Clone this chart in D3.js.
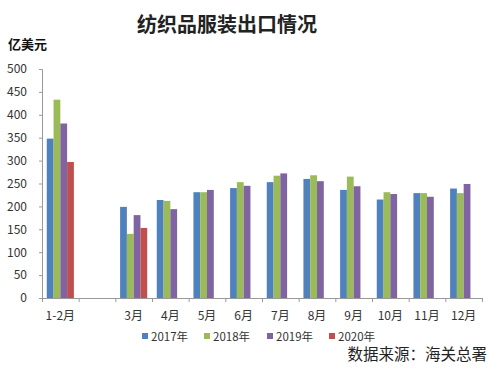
<!DOCTYPE html>
<html>
<head>
<meta charset="utf-8">
<script src="https://cdn.jsdelivr.net/npm/d3@7"></script>
<style>
  body { margin: 0; background: #fff; }
  svg text { font-family: "Noto Sans CJK SC", "DejaVu Sans", sans-serif; }
</style>
</head>
<body>
<div id="chart"></div>
<script>
// categories (second slot is an empty gap in the original chart)
const months = ['1-2月', '', '3月', '4月', '5月', '6月', '7月', '8月', '9月', '10月', '11月', '12月'];
const seriesNames = ['2017年', '2018年', '2019年', '2020年'];
const colors = ['#4f81bd', '#9bbb59', '#8064a2', '#c0504d'];

// values in 亿美元, null = no bar
const v2017 = [348, null, 199, 214, 231, 240, 253, 260, 236, 215, 229, 239];
const v2018 = [433, null, 140, 212, 231, 253, 267, 268, 265, 231, 229, 229];
const v2019 = [381, null, 181, 194, 236, 245, 272, 255, 244, 227, 221, 249];
const v2020 = [297, null, 153, null, null, null, null, null, null, null, null, null];
const seriesValues = [v2017, v2018, v2019, v2020];

const yTicks = [0, 50, 100, 150, 200, 250, 300, 350, 400, 450, 500];

const W = 500, H = 375;
const margin = { top: 69, right: 18, bottom: 77, left: 42 };
const width = W - margin.left - margin.right;
const height = H - margin.top - margin.bottom;

const svg = d3.select('#chart').append('svg')
  .attr('width', W)
  .attr('height', H);

// Title
svg.append('text')
  .attr('x', 227)
  .attr('y', 32)
  .attr('text-anchor', 'middle')
  .style('font-size', '20px')
  .style('font-weight', 'bold')
  .attr('fill', '#222')
  .text('纺织品服装出口情况');

// Unit label
svg.append('text')
  .attr('x', 8)
  .attr('y', 49)
  .style('font-size', '13px')
  .style('font-weight', 'bold')
  .attr('fill', '#111')
  .text('亿美元');

const g = svg.append('g')
  .attr('transform', `translate(${margin.left},${margin.top})`);

const x0 = d3.scaleBand()
  .domain(d3.range(months.length))
  .range([0, width])
  .paddingInner(0.26)
  .paddingOuter(0.13);

const x1 = d3.scaleBand()
  .domain(d3.range(seriesNames.length))
  .range([0, x0.bandwidth()]);

const y = d3.scaleLinear()
  .domain([0, 500])
  .range([height, 0]);

// Bars
seriesValues.forEach((vals, si) => {
  g.selectAll('.bar-' + si)
    .data(vals.map((v, i) => ({ v, i })).filter(d => d.v != null))
    .enter()
    .append('rect')
    .attr('x', d => x0(d.i) + x1(si))
    .attr('width', x1.bandwidth())
    .attr('y', d => y(d.v))
    .attr('height', d => height - y(d.v))
    .attr('fill', colors[si]);
});

// Y axis
const yAxis = g.append('g')
  .call(d3.axisLeft(y).tickValues(yTicks).tickSize(3).tickPadding(12));
yAxis.select('.domain').attr('stroke', '#999');
yAxis.selectAll('line').attr('stroke', '#999');
yAxis.selectAll('text')
  .style('font-size', '12px')
  .attr('fill', '#333');

// X axis: ticks on band boundaries
const step = width / months.length;
const xBound = d3.scaleLinear().domain([0, months.length]).range([0, width]);
const xAxis = g.append('g')
  .attr('transform', `translate(0,${height})`)
  .call(d3.axisBottom(xBound).tickValues(d3.range(months.length + 1)).tickSize(4).tickFormat(''));
xAxis.select('.domain').attr('stroke', '#999');
xAxis.selectAll('line').attr('stroke', '#999');

g.selectAll('.xlabel')
  .data(months)
  .enter()
  .append('text')
  .attr('x', (d, i) => xBound(i) + step / 2)
  .attr('y', height + 22)
  .attr('text-anchor', 'middle')
  .style('font-size', '12px')
  .attr('fill', '#333')
  .text(d => d);

// Legend
const legendX = [142, 204, 267, 329];
const legend = svg.append('g');
seriesNames.forEach((name, i) => {
  legend.append('rect')
    .attr('x', legendX[i])
    .attr('y', 333)
    .attr('width', 6)
    .attr('height', 6)
    .attr('fill', colors[i]);
  legend.append('text')
    .attr('x', legendX[i] + 9)
    .attr('y', 340.5)
    .style('font-size', '11.5px')
    .attr('fill', '#333')
    .text(name);
});

// Source note
svg.append('text')
  .attr('x', 487)
  .attr('y', 360)
  .attr('text-anchor', 'end')
  .style('font-size', '15.5px')
  .attr('fill', '#222')
  .text('数据来源：海关总署');
</script>
</body>
</html>
